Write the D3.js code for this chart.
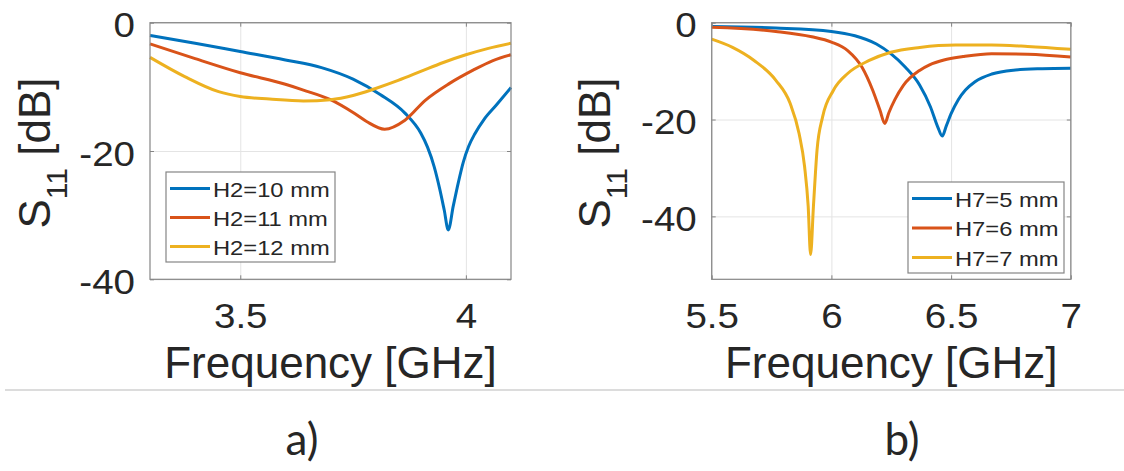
<!DOCTYPE html>
<html>
<head>
<meta charset="utf-8">
<script src="https://cdn.jsdelivr.net/npm/d3@7"></script>
<style>
  body { margin: 0; background: #fff; }
  text { fill: #262626; }
</style>
</head>
<body>
<script>
// ---- panel a) : H2 sweep, 3.3 - 4.1 GHz
const freqH2_10 = [3.30, 3.40, 3.50, 3.60, 3.68, 3.75, 3.81, 3.865, 3.90, 3.915, 3.93, 3.942, 3.952, 3.961, 3.972, 3.983, 3.994, 4.006, 4.02, 4.04, 4.068, 4.10];
const s11H2_10  = [-2.0, -3.2, -4.5, -5.8, -7.0, -8.8, -11.2, -14.1, -17.2, -19.4, -22.5, -25.9, -29.2, -32.3, -28.6, -25.0, -21.8, -19.3, -17.3, -15.1, -12.8, -10.1];
const freqH2_11 = [3.30, 3.40, 3.50, 3.60, 3.64, 3.70, 3.75, 3.78, 3.82, 3.865, 3.91, 3.963, 4.016, 4.06, 4.10];
const s11H2_11  = [-3.3, -5.6, -7.8, -9.6, -10.5, -12.0, -14.0, -15.4, -16.6, -15.2, -12.1, -9.5, -7.4, -5.9, -5.0];
const freqH2_12 = [3.30, 3.377, 3.452, 3.50, 3.565, 3.64, 3.70, 3.75, 3.80, 3.85, 3.90, 3.95, 4.0, 4.05, 4.10];
const s11H2_12  = [-5.4, -8.4, -10.75, -11.5, -11.9, -12.2, -12.0, -11.35, -10.25, -9.0, -7.6, -6.2, -5.0, -4.0, -3.2];
const namesA = ["H2=10 mm", "H2=11 mm", "H2=12 mm"];
const xTicksA = [3.5, 4];
const yTicksA = [-40, -20, 0];

// ---- panel b) : H7 sweep, 5.5 - 7 GHz
const freqH7_5 = [5.5, 5.768, 6.0, 6.098, 6.188, 6.248, 6.309, 6.369, 6.414, 6.444, 6.463, 6.48, 6.50, 6.53, 6.56, 6.60, 6.67, 6.76, 6.88, 7.0];
const s11H7_5  = [-0.8, -1.1, -1.8, -2.7, -4.4, -6.4, -9.2, -12.9, -17.4, -21.5, -23.4, -21.3, -18.8, -15.9, -13.9, -12.2, -10.6, -9.8, -9.5, -9.4];
const freqH7_6 = [5.5, 5.768, 5.918, 6.0, 6.068, 6.128, 6.173, 6.203, 6.223, 6.24, 6.265, 6.30, 6.37, 6.41, 6.47, 6.55, 6.669, 6.82, 7.0];
const s11H7_6  = [-0.96, -1.8, -2.9, -4.0, -5.75, -9.2, -14.0, -18.1, -20.8, -18.6, -15.9, -13.0, -9.8, -8.7, -7.7, -7.0, -6.4, -6.5, -7.1];
const freqH7_7 = [5.5, 5.587, 5.677, 5.768, 5.828, 5.865, 5.888, 5.903, 5.913, 5.925, 5.94, 5.963, 6.008, 6.068, 6.158, 6.248, 6.369, 6.519, 6.669, 6.82, 7.0];
const s11H7_7  = [-3.4, -5.1, -7.8, -11.9, -16.7, -22.9, -29.7, -37.9, -47.9, -37.9, -26.3, -19.5, -14.0, -10.5, -7.8, -6.1, -5.1, -4.6, -4.6, -4.9, -5.5];
const namesB = ["H7=5 mm", "H7=6 mm", "H7=7 mm"];
const xTicksB = [5.5, 6, 6.5, 7];
const yTicksB = [-40, -20, 0];

const width = 1124, height = 471;
const colors = ["#0072BD", "#D95319", "#EDB120"];
const font = "'Liberation Sans', Arial, Helvetica, sans-serif";
const sx = 1.1; // the figure is a bit stretched sideways

const svg = d3.select("body").append("svg")
    .attr("width", width)
    .attr("height", height)
    .style("font-family", font);

svg.append("rect").attr("width", width).attr("height", height).attr("fill", "#fff");

function zip(f, v) { return f.map((d, i) => [d, v[i]]); }
const plain = d => String(d); // hyphen minus, like the original

function panel(o) {
  const x = d3.scaleLinear().domain(o.xDomain).range([o.left, o.right]);
  const y = d3.scaleLinear().domain(o.yDomain).range([o.bottom, o.top]);
  const h = o.bottom - o.top, w = o.right - o.left;
  const g = svg.append("g");

  // grid
  g.append("g").attr("transform", `translate(0,${o.bottom})`)
    .call(d3.axisBottom(x).tickValues(o.xTicks).tickSize(-h).tickFormat(""))
    .call(a => a.select(".domain").remove())
    .call(a => a.selectAll("line").attr("stroke", "#e4e4e4"));
  g.append("g").attr("transform", `translate(${o.left},0)`)
    .call(d3.axisLeft(y).tickValues(o.yTicks).tickSize(-w).tickFormat(""))
    .call(a => a.select(".domain").remove())
    .call(a => a.selectAll("line").attr("stroke", "#e4e4e4"));

  // curves
  const line = d3.line().x(d => x(d[0])).y(d => y(d[1])).curve(d3.curveMonotoneX);
  g.append("g").selectAll("path").data(o.series).join("path")
    .attr("d", d => line(d))
    .attr("fill", "none")
    .attr("stroke", (d, i) => colors[i])
    .attr("stroke-width", 3)
    .attr("stroke-linejoin", "round");

  // box + inward ticks
  g.append("rect").attr("x", o.left).attr("y", o.top).attr("width", w).attr("height", h)
    .attr("fill", "none").attr("stroke", "#858585").attr("stroke-width", 1.2);
  const tk = 4;
  [[d3.axisBottom(x).tickValues(o.xTicks), `translate(0,${o.bottom})`],
   [d3.axisTop(x).tickValues(o.xTicks), `translate(0,${o.top})`],
   [d3.axisLeft(y).tickValues(o.yTicks), `translate(${o.left},0)`],
   [d3.axisRight(y).tickValues(o.yTicks), `translate(${o.right},0)`]].forEach(([ax, tr]) => {
    g.append("g").attr("transform", tr)
      .call(ax.tickSize(-tk).tickFormat(""))
      .call(a => a.select(".domain").remove())
      .call(a => a.selectAll("line").attr("stroke", "#858585"));
  });

  // tick labels
  const fs = 35;
  g.append("g").attr("transform", `translate(0,${o.bottom})`)
    .call(d3.axisBottom(x).tickValues(o.xTicks).tickSize(0).tickPadding(0).tickFormat(plain))
    .call(a => a.select(".domain").remove())
    .call(a => a.selectAll("text")
      .attr("y", null).attr("dy", null)
      .attr("transform", `translate(0,${o.tickBase - o.bottom}) scale(${sx},1)`)
      .style("font-size", fs + "px").style("font-family", font).attr("fill", "#262626"));
  g.append("g").attr("transform", `translate(${o.left},0)`)
    .call(d3.axisLeft(y).tickValues(o.yTicks).tickSize(0).tickPadding(0).tickFormat(plain))
    .call(a => a.select(".domain").remove())
    .call(a => a.selectAll("text")
      .attr("x", null).attr("dy", null)
      .attr("transform", `translate(-15,14) scale(${sx},1)`)
      .style("font-size", fs + "px").style("font-family", font).attr("fill", "#262626"));

  // axis labels
  g.append("text")
    .attr("transform", `translate(${(o.left + o.right) / 2},${o.labelBase})`)
    .attr("text-anchor", "middle")
    .style("font-size", "44px")
    .text("Frequency [GHz]");
  const yl = g.append("text")
    .attr("transform", `translate(${o.yLabelX},${(o.top + o.bottom) / 2 + 2}) rotate(-90)`)
    .attr("text-anchor", "middle")
    .style("font-size", "44px");
  yl.append("tspan").text("S");
  yl.append("tspan").attr("dy", 17).style("font-size", "30px").text("11");
  yl.append("tspan").attr("dy", -17).text(" [dB]");

  // legend
  const L = o.legend;
  const lg = g.append("g").attr("transform", `translate(${L.x},${L.y})`);
  lg.append("rect").attr("width", L.w).attr("height", L.h)
    .attr("fill", "#fff").attr("stroke", "#858585").attr("stroke-width", 1.2);
  const row = lg.selectAll("g").data(o.names).join("g")
    .attr("transform", (d, i) => `translate(0,${L.row0 + i * L.step})`);
  row.append("line").attr("x1", 4).attr("x2", 44)
    .attr("stroke", (d, i) => colors[i]).attr("stroke-width", 3);
  row.append("text")
    .attr("transform", `translate(47,8) scale(${sx + 0.03},1)`)
    .style("font-size", "21px")
    .text(d => d);
}

panel({
  xDomain: [3.3, 4.1], yDomain: [-40, 0],
  left: 150, right: 511, top: 22.7, bottom: 279.3,
  xTicks: xTicksA, yTicks: yTicksA,
  series: [zip(freqH2_10, s11H2_10), zip(freqH2_11, s11H2_11), zip(freqH2_12, s11H2_12)],
  names: namesA,
  tickBase: 328, labelBase: 378, yLabelX: 50,
  legend: { x: 166, y: 172, w: 169, h: 90, row0: 16.5, step: 29 }
});

panel({
  xDomain: [5.5, 7], yDomain: [-53, 0],
  left: 711.7, right: 1070.8, top: 22.7, bottom: 279.3,
  xTicks: xTicksB, yTicks: yTicksB,
  series: [zip(freqH7_5, s11H7_5), zip(freqH7_6, s11H7_6), zip(freqH7_7, s11H7_7)],
  names: namesB,
  tickBase: 328, labelBase: 378, yLabelX: 610,
  legend: { x: 908, y: 182, w: 156, h: 91, row0: 16.5, step: 29.5 }
});

// separator and sub-figure captions
svg.append("line").attr("x1", 5).attr("x2", width).attr("y1", 390).attr("y2", 390)
  .attr("stroke", "#d0d0d0").attr("stroke-width", 1.5);
svg.selectAll("text.cap").data(["a)", "b)"]).join("text")
  .attr("class", "cap")
  .attr("x", (d, i) => [302, 902][i])
  .attr("y", 455)
  .attr("text-anchor", "middle")
  .style("font-family", "Lato, 'Open Sans', sans-serif")
  .style("font-size", "44px")
  .text(d => d);
</script>
</body>
</html>
